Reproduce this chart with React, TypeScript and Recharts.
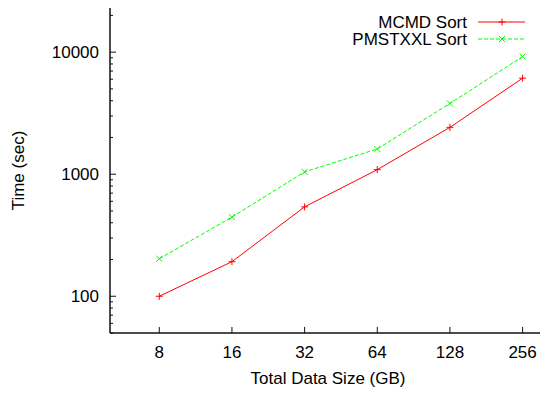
import React from 'react';
import { LineChart, Line, XAxis, YAxis, Legend } from 'recharts';

const sizes = [8, 16, 32, 64, 128, 256];
const mcmdSort = [100, 192, 540, 1090, 2420, 6120];
const pmstxxlSort = [203, 445, 1045, 1610, 3800, 9200];
const xTicks = [8, 16, 32, 64, 128, 256];
const yTicks = [
  50, 60, 70, 80, 90, 100, 200, 300, 400, 500, 600, 700, 800, 900,
  1000, 2000, 3000, 4000, 5000, 6000, 7000, 8000, 9000, 10000, 20000,
];
const majorY = [100, 1000, 10000];

const data = sizes.map((s, i) => ({ size: s, mcmd: mcmdSort[i], pmstxxl: pmstxxlSort[i] }));

const FONT = '"Liberation Sans", Arial, Helvetica, sans-serif';
const AXIS = '#111';

const PlusDot = (props: any) => {
  const { cx, cy, stroke } = props;
  if (cx == null || cy == null) return null;
  return (
    <g>
      <line x1={cx - 3.5} y1={cy} x2={cx + 3.5} y2={cy} stroke={stroke} strokeWidth={1} />
      <line x1={cx} y1={cy - 3.5} x2={cx} y2={cy + 3.5} stroke={stroke} strokeWidth={1} />
    </g>
  );
};

const CrossDot = (props: any) => {
  const { cx, cy, stroke } = props;
  if (cx == null || cy == null) return null;
  return (
    <g>
      <line x1={cx - 3} y1={cy - 3} x2={cx + 3} y2={cy + 3} stroke={stroke} strokeWidth={1} />
      <line x1={cx - 3} y1={cy + 3} x2={cx + 3} y2={cy - 3} stroke={stroke} strokeWidth={1} />
    </g>
  );
};

const YTick = (props: any) => {
  const { x, y, payload } = props;
  const v = payload.value;
  const axisX = x + 11;
  const major = majorY.includes(v);
  return (
    <g>
      <line x1={axisX} y1={y} x2={axisX + (major ? 6 : 3)} y2={y} stroke={AXIS} strokeWidth={1} />
      {major && (
        <text x={x} y={y} dy="0.355em" textAnchor="end" fontSize={17} fontFamily={FONT} fill="#000">
          {v}
        </text>
      )}
    </g>
  );
};

const XTick = (props: any) => {
  const { x, y, payload } = props;
  const axisY = y - 13;
  return (
    <g>
      <line x1={x} y1={axisY} x2={x} y2={axisY - 6} stroke={AXIS} strokeWidth={1} />
      <text x={x} y={y} dy="0.71em" textAnchor="middle" fontSize={17} fontFamily={FONT} fill="#000">
        {payload.value}
      </text>
    </g>
  );
};

const TopTick = (props: any) => {
  const { x, y } = props;
  return <line x1={x} y1={y} x2={x} y2={y + 6} stroke={AXIS} strokeWidth={1} />;
};

const LegendContent = (props: any) => {
  const { payload } = props;
  return (
    <svg width={200} height={40} style={{ display: 'block' }}>
      {(payload || []).map((p: any, i: number) => {
        const cy = 9 + i * 17;
        const color = p.color;
        const dashed = p.payload && p.payload.strokeDasharray;
        return (
          <g key={p.value}>
            <text x={127} y={cy} dy="0.355em" textAnchor="end" fontSize={17} fontFamily={FONT} fill="#000">
              {p.value}
            </text>
            <line x1={138} y1={cy} x2={185} y2={cy} stroke={color} strokeWidth={1} strokeDasharray={dashed || undefined} />
            {i === 0 ? <PlusDot cx={162} cy={cy} stroke={color} /> : <CrossDot cx={162} cy={cy} stroke={color} />}
          </g>
        );
      })}
    </svg>
  );
};

export default function App() {
  return (
    <div style={{ position: 'absolute', left: 0, top: 0, width: 540, height: 393, overflow: 'hidden', background: '#fff' }}>
      <LineChart
        width={560}
        height={393}
        data={data}
        margin={{ top: 8, right: 14, bottom: 0, left: 0 }}
        style={{ fontFamily: FONT }}
      >
        <XAxis
          dataKey="size"
          type="number"
          scale="log"
          domain={[5, 320]}
          allowDataOverflow
          ticks={xTicks}
          interval={0}
          height={60}
          tickSize={0}
          tickMargin={13}
          tickLine={false}
          tick={<XTick />}
          axisLine={{ stroke: AXIS, strokeWidth: 1.5 }}
          label={{ value: 'Total Data Size (GB)', position: 'insideBottom', offset: 9, fontSize: 17, fill: '#000', fontFamily: FONT }}
        />
        <XAxis
          xAxisId="top"
          orientation="top"
          dataKey="size"
          type="number"
          scale="log"
          domain={[5, 320]}
          allowDataOverflow
          ticks={xTicks}
          interval={0}
          height={0}
          tickSize={0}
          tickMargin={0}
          tickLine={false}
          tick={<TopTick />}
          axisLine={{ stroke: AXIS, strokeWidth: 1.5 }}
        />
        <YAxis
          type="number"
          scale="log"
          domain={[50, 23000]}
          allowDataOverflow
          ticks={yTicks}
          interval={0}
          width={110}
          tickSize={0}
          tickMargin={11}
          tickLine={false}
          tick={<YTick />}
          axisLine={{ stroke: AXIS, strokeWidth: 1.5 }}
          label={{
            content: (p: any) => {
              const vb = p.viewBox || { x: 0, y: 8, width: 110, height: 325 };
              const cx = vb.x + 18;
              const cy = vb.y + vb.height / 2;
              return (
                <text
                  x={cx}
                  y={cy}
                  transform={`rotate(-90, ${cx}, ${cy})`}
                  textAnchor="middle"
                  dy="0.355em"
                  fontSize={17}
                  fontFamily={FONT}
                  fill="#000"
                >
                  Time (sec)
                </text>
              );
            },
          }}
        />
        <Legend
          layout="horizontal"
          verticalAlign="middle"
          align="center"
          wrapperStyle={{ top: 13, left: 340, width: 200, height: 40 }}
          content={<LegendContent />}
        />
        <Line
          name="MCMD Sort"
          dataKey="mcmd"
          stroke="#ff0000"
          strokeWidth={1}
          dot={<PlusDot />}
          activeDot={false}
          isAnimationActive={false}
        />
        <Line
          name="PMSTXXL Sort"
          dataKey="pmstxxl"
          stroke="#00ff00"
          strokeWidth={1}
          strokeDasharray="4 2"
          dot={<CrossDot />}
          activeDot={false}
          isAnimationActive={false}
        />
      </LineChart>
    </div>
  );
}
